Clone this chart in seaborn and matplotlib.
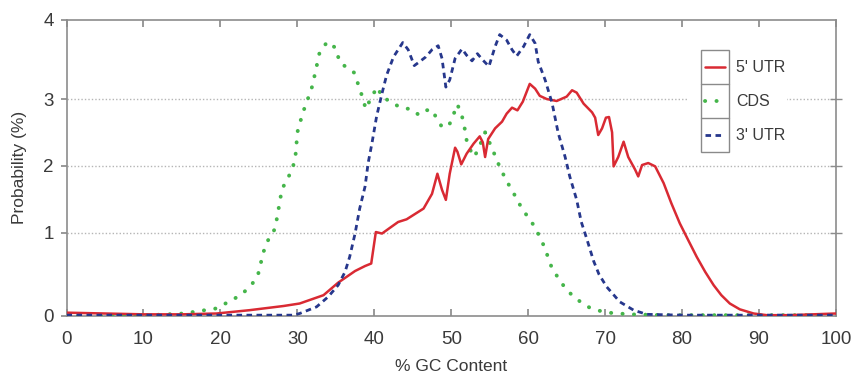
import numpy as np
import pandas as pd
import matplotlib
matplotlib.use("Agg")
import matplotlib.pyplot as plt
import seaborn as sns
from matplotlib.lines import Line2D
from matplotlib.patches import Rectangle

# ---------------- data ----------------
utr5_x = [0, 5, 10, 15, 19.5, 23.8, 28.2, 30.3, 33.4, 35.3, 37.5, 38.8, 39.6, 40.2, 41.0, 42.0,
          43.1, 44.2, 45.3, 46.4, 47.5, 48.2, 48.8, 49.3, 49.8, 50.5, 50.8, 51.3, 52.0, 52.9,
          53.7, 54.1, 54.4, 54.8, 55.7, 56.6, 57.2, 57.9, 58.6, 59.3, 60.2, 60.9, 61.5, 62.4,
          63.7, 65.0, 65.7, 66.3, 67.2, 68.3, 68.7, 69.1, 69.6, 70.1, 70.5, 70.9, 71.1, 71.7,
          72.4, 73.0, 73.9, 74.3, 74.8, 75.6, 76.5, 77.6, 78.6, 79.7, 80.8, 81.9, 83.0, 84.1,
          85.1, 86.2, 87.5, 89.3, 91.0, 94, 97, 100]
utr5_y = [0.04, 0.03, 0.02, 0.02, 0.03, 0.07, 0.12, 0.15, 0.25, 0.40, 0.54, 0.60, 0.63, 1.01,
          0.99, 1.07, 1.16, 1.20, 1.28, 1.36, 1.58, 1.88, 1.64, 1.49, 1.88, 2.27, 2.21, 2.02,
          2.18, 2.33, 2.44, 2.35, 2.13, 2.40, 2.56, 2.66, 2.78, 2.87, 2.83, 2.96, 3.19, 3.13,
          3.04, 3.00, 2.97, 3.03, 3.11, 3.08, 2.93, 2.80, 2.72, 2.46, 2.56, 2.72, 2.73, 2.50,
          1.99, 2.13, 2.36, 2.13, 1.94, 1.84, 2.01, 2.04, 1.99, 1.74, 1.44, 1.14, 0.91, 0.71,
          0.53, 0.37, 0.25, 0.15, 0.08, 0.03, 0.01, 0.01, 0.02, 0.03]

cds_x = [0, 5, 10.9, 15.2, 18.0, 19.4, 21.7, 23.0, 24.1, 24.9, 25.6, 26.2, 27.1, 27.4, 28.0,
         28.7, 29.4, 29.8, 30.0, 30.7, 31.3, 31.9, 32.3, 32.9, 33.9, 35.0, 35.5, 37.4, 38.4,
         38.9, 39.6, 40.4, 41.1, 41.9, 42.8, 43.8, 44.8, 45.8, 46.7, 47.5, 48.1, 48.8, 49.7,
         50.2, 50.8, 51.4, 51.7, 52.0, 52.4, 53.0, 53.7, 54.4, 55.0, 55.7, 56.3, 56.9, 57.6,
         58.3, 59.0, 59.8, 60.6, 61.4, 62.1, 63.1, 64.1, 65.0, 66.1, 67.2, 68.0, 68.9, 70.4,
         73.2, 78, 85, 92, 100]
cds_y = [0.0, 0.0, 0.01, 0.03, 0.07, 0.09, 0.20, 0.28, 0.38, 0.50, 0.77, 0.91, 1.06, 1.25,
         1.65, 1.80, 1.96, 2.19, 2.50, 2.79, 2.98, 3.15, 3.32, 3.59, 3.72, 3.64, 3.46, 3.33,
         3.04, 2.85, 3.02, 3.15, 3.01, 2.98, 2.91, 2.86, 2.85, 2.76, 2.83, 2.84, 2.71, 2.58,
         2.60, 2.74, 2.92, 2.74, 2.59, 2.38, 2.25, 2.13, 2.30, 2.50, 2.34, 2.15, 1.98, 1.84,
         1.69, 1.55, 1.40, 1.26, 1.13, 0.97, 0.83, 0.57, 0.43, 0.31, 0.22, 0.14, 0.10, 0.07,
         0.04, 0.02, 0.01, 0.01, 0.01, 0.01]

utr3_x = [0, 10, 20, 29.5, 30.3, 32.5, 34.0, 35.3, 36.2, 36.8, 37.5, 38.1, 38.8, 39.2, 39.7,
          40.3, 41.0, 41.6, 42.5, 43.7, 44.4, 45.2, 45.9, 46.7, 47.5, 48.3, 48.8, 49.3, 49.8,
          50.5, 51.4, 52.0, 52.7, 53.4, 54.1, 54.9, 55.7, 56.3, 57.2, 57.9, 58.5, 59.4, 60.2,
          60.9, 61.3, 62.2, 63.1, 63.9, 64.8, 65.4, 66.3, 66.9, 67.6, 68.5, 69.2, 70.2, 71.9,
          73.7, 75.4, 80, 90, 100]
utr3_y = [0.01, 0.01, 0.01, 0.01, 0.03, 0.11, 0.23, 0.37, 0.53, 0.71, 0.99, 1.36, 1.69, 2.04,
          2.34, 2.74, 3.07, 3.30, 3.53, 3.71, 3.62, 3.42, 3.47, 3.53, 3.62, 3.67, 3.51, 3.15,
          3.24, 3.51, 3.63, 3.55, 3.48, 3.57, 3.49, 3.41, 3.66, 3.81, 3.74, 3.62, 3.54, 3.66,
          3.81, 3.70, 3.47, 3.24, 2.94, 2.49, 2.13, 1.84, 1.49, 1.16, 0.93, 0.66, 0.50, 0.35,
          0.17, 0.07, 0.02, 0.01, 0.01, 0.01]

series_names = ["5' UTR", "CDS", "3' UTR"]
x_ticks = [0, 10, 20, 30, 40, 50, 60, 70, 80, 90, 100]
y_ticks = [0, 1, 2, 3, 4]

# the reference's y axis is not uniformly spaced: gridline pixel offsets from the baseline
y_pix = [0, 83.3, 150.3, 217.0, 296.5]

# ---------------- figure ----------------
sns.set_theme(style="white")
plt.rcParams['font.family'] = ['Liberation Sans', 'DejaVu Sans']

fig = plt.figure(figsize=(8.57, 3.76), dpi=100)
ax = fig.add_axes([66.5 / 857, 1 - 316 / 376, (836 - 66.5) / 857, (316 - 19.5) / 376])

def fwd(v):
    return np.interp(v, y_ticks, y_pix)

def inv(p):
    return np.interp(p, y_pix, y_ticks)

ax.set_yscale('function', functions=(fwd, inv))

df = pd.concat([
    pd.DataFrame({"gc": utr5_x, "p": utr5_y, "region": series_names[0]}),
    pd.DataFrame({"gc": cds_x, "p": cds_y, "region": series_names[1]}),
    pd.DataFrame({"gc": utr3_x, "p": utr3_y, "region": series_names[2]}),
])

red = "#d92a33"
green = "#45b54a"
blue = "#26378c"

sns.lineplot(data=df[df.region == series_names[0]], x="gc", y="p", ax=ax, color=red,
             lw=1.8, legend=False, estimator=None, sort=False, zorder=4)
l_cds = sns.lineplot(data=df[df.region == series_names[1]], x="gc", y="p", ax=ax, color=green,
                     lw=2.8, legend=False, estimator=None, sort=False, zorder=3)
l_cds.lines[-1].set_linestyle((0, (0.05, 2.9)))
l_cds.lines[-1].set_dash_capstyle('round')
l_utr3 = sns.lineplot(data=df[df.region == series_names[2]], x="gc", y="p", ax=ax, color=blue,
                      lw=2.0, legend=False, estimator=None, sort=False, zorder=5)
l_utr3.lines[-1].set_linestyle((0, (2.0, 1.6)))

ax.set_xlim(0, 100)
ax.set_ylim(0, 4)
ax.set_xticks(x_ticks)
ax.set_yticks(y_ticks)
ax.set_xticklabels([str(t) for t in x_ticks])
ax.set_yticklabels([str(t) for t in y_ticks])

for yv in y_ticks[1:-1]:
    ax.axhline(yv, color="#b5b5b5", lw=1.0, ls=(0, (1, 1.5)), zorder=1)

for s in ax.spines.values():
    s.set_color("#8c8c8c")
    s.set_linewidth(1.2)
    s.set_visible(True)

ax.tick_params(axis='x', which='both', direction='in', top=True, bottom=True, length=5,
               color="#8c8c8c", labelsize=13.5, labelcolor="#3a3a3a", pad=11)
ax.tick_params(axis='y', which='both', direction='out', left=True, right=False, length=4,
               color="#8c8c8c", labelsize=13.5, labelcolor="#3a3a3a", pad=5)
for yv in y_ticks[1:-1]:
    ax.plot([100], [yv], marker=(2, 0, 90), markersize=8, color="#8c8c8c", clip_on=False,
            zorder=6)

ax.set_xlabel("% GC Content", fontsize=12.5, color="#3a3a3a", labelpad=8)
ax.set_ylabel("Probability (%)", fontsize=12.5, color="#3a3a3a", labelpad=12)
ax.set_facecolor("white")

# ---------------- legend ----------------
def fx(px):
    return px / 857

def fy(py):
    return 1 - py / 376

fig.patches.append(Rectangle((fx(687), fy(160)), fx(787) - fx(687), fy(40) - fy(160),
                             transform=fig.transFigure, facecolor="white", edgecolor="none",
                             zorder=7))
box_left, box_right, box_top, box_bot = 701, 729, 50, 152
rows = [50, 84, 118, 152]
fig.patches.append(Rectangle((fx(box_left), fy(box_bot)), fx(box_right) - fx(box_left),
                             fy(box_top) - fy(box_bot), transform=fig.transFigure,
                             facecolor="none", edgecolor="#8a8a8a", lw=1.0, zorder=8))
for r in rows[1:-1]:
    fig.lines.append(Line2D([fx(box_left), fx(box_right)], [fy(r), fy(r)],
                            transform=fig.transFigure, color="#8a8a8a", lw=1.0, zorder=8))

styles = [dict(color=red, lw=1.8, ls='-'),
          dict(color=green, lw=2.8, ls=(0, (0.05, 2.9)), dash_capstyle='round'),
          dict(color=blue, lw=2.0, ls=(0, (2.0, 1.6)))]
for i, (name, st) in enumerate(zip(series_names, styles)):
    yc = (rows[i] + rows[i + 1]) / 2
    fig.lines.append(Line2D([fx(705), fx(725)], [fy(yc), fy(yc)], transform=fig.transFigure,
                            zorder=9, **st))
    fig.text(fx(736), fy(yc), name, fontsize=11.5, color="#3a3a3a", va='center', ha='left',
             zorder=9)

fig.savefig("out.png", dpi=100, facecolor="white")
